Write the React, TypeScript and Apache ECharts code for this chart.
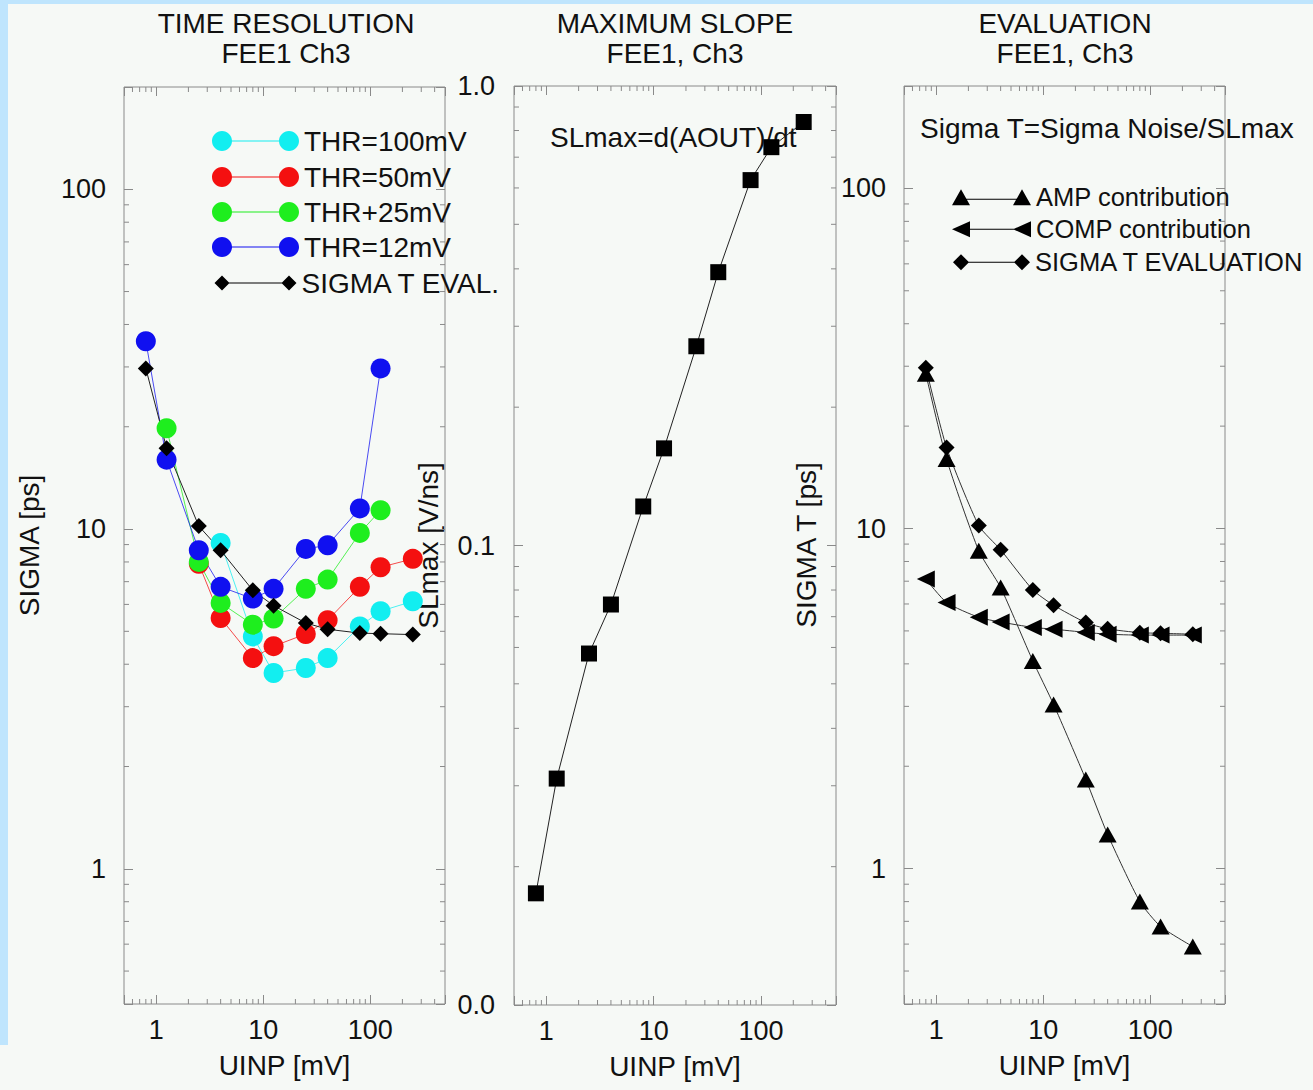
import React, { useEffect, useRef } from "react";
import * as echarts from "echarts";

// ---------------- data ----------------
const uinp = [0.8, 1.25, 2.5, 4, 8, 12.5, 25, 40, 80, 125, 250];

// Panel 1: time resolution (ps) for several thresholds
const thr100 = [null, null, null, 9.1, 4.83, 3.77, 3.9, 4.17, 5.17, 5.73, 6.13];
const thr50 = [null, null, 7.9, 5.47, 4.17, 4.52, 4.91, 5.39, 6.76, 7.72, 8.17];
const thr25 = [null, 19.8, 8.0, 6.06, 5.23, 5.45, 6.67, 7.1, 9.74, 11.36, null];
const thr12 = [35.7, 16.0, 8.66, 6.76, 6.24, 6.67, 8.74, 8.96, 11.5, 29.7, null];
const sigmaTEval = [29.7, 17.3, 10.2, 8.66, 6.6, 5.95, 5.29, 5.07, 4.94, 4.92, 4.89];

// Panel 2: maximum slope (V/ns)
const slMax = [0.0175, 0.0311, 0.0582, 0.0744, 0.1216, 0.1627, 0.2714, 0.3934, 0.624, 0.736, 0.835];

// Panel 3: evaluation (ps)
const ampContribution = [28.5, 16.0, 8.6, 6.71, 4.08, 3.04, 1.83, 1.26, 0.8, 0.676, 0.59];
const compContribution = [7.1, 6.06, 5.48, 5.31, 5.12, 5.06, 4.95, 4.89, 4.86, 4.86, 4.86];

// axis ranges and tick labels
const xRange = [0.5, 500];
const sigmaRange = [0.4, 200];
const slopeRange = [0.01, 1];
const xTickValues = [1, 10, 100];
const xTickLabels = ["1", "10", "100"];
const sigmaTickValues = [1, 10, 100];
const sigmaTickLabels = ["1", "10", "100"];
const slopeTickValues = [0.01, 0.1, 1];
const slopeTickLabels = ["0.0", "0.1", "1.0"];

// ---------------- style ----------------
const FONT = "'Liberation Sans', Arial, Helvetica, sans-serif";
const TXT = "#111111";
const GRAY = "#8a8a8a";
const CYAN = "#12eef0";
const RED = "#f41010";
const GREEN = "#1eee1e";
const BLUE = "#1010f0";
const BLACK = "#000000";

function pairs(vals: (number | null)[]) {
  const out: number[][] = [];
  uinp.forEach((u, i) => {
    const v = vals[i];
    if (v !== null && v !== undefined) out.push([u, v]);
  });
  return out;
}

function labelFor(values: number[], labels: string[]) {
  return (v: number) => {
    for (let i = 0; i < values.length; i++) {
      if (Math.abs(v - values[i]) / values[i] < 1e-6) return labels[i];
    }
    return "";
  };
}

function minorValues(lo: number, hi: number) {
  const out: number[] = [];
  for (let d = -3; d <= 3; d++) {
    const base = Math.pow(10, d);
    for (let k = 2; k <= 9; k++) {
      const v = +(k * base).toPrecision(6);
      if (v > lo * 1.0001 && v < hi * 0.9999) out.push(v);
    }
  }
  return out;
}

const MINOR = 5;
const MAJOR = 9;

function minorTickSeries(gi: number, xr: number[], yr: number[]) {
  const xm = minorValues(xr[0], xr[1]);
  const ym = minorValues(yr[0], yr[1]);
  const data = [...xm.map((v) => [v, yr[0], 0]), ...ym.map((v) => [xr[0], v, 1])];
  return {
    type: "custom",
    xAxisIndex: gi,
    yAxisIndex: gi,
    silent: true,
    clip: false,
    z: 1,
    data,
    renderItem: (params: any, api: any) => {
      const kind = api.value(2);
      const st = { stroke: GRAY, lineWidth: 1 };
      if (kind === 0) {
        const v = api.value(0);
        const b = api.coord([v, yr[0]]);
        const t = api.coord([v, yr[1]]);
        return {
          type: "group",
          children: [
            { type: "line", shape: { x1: b[0], y1: b[1], x2: b[0], y2: b[1] - MINOR }, style: st },
            { type: "line", shape: { x1: t[0], y1: t[1], x2: t[0], y2: t[1] + MINOR }, style: st },
          ],
        };
      }
      const v = api.value(1);
      const l = api.coord([xr[0], v]);
      const r = api.coord([xr[1], v]);
      return {
        type: "group",
        children: [
          { type: "line", shape: { x1: l[0], y1: l[1], x2: l[0] + MINOR, y2: l[1] }, style: st },
          { type: "line", shape: { x1: r[0], y1: r[1], x2: r[0] - MINOR, y2: r[1] }, style: st },
        ],
      };
    },
  };
}

const grids = [
  { left: 124, top: 87, width: 321, height: 917 },
  { left: 514, top: 86, width: 322, height: 919 },
  { left: 904, top: 86, width: 321, height: 918 },
];

const yRanges = [sigmaRange, slopeRange, sigmaRange];
const yFormatters = [
  labelFor(sigmaTickValues, sigmaTickLabels),
  labelFor(slopeTickValues, slopeTickLabels),
  labelFor(sigmaTickValues, sigmaTickLabels),
];
const yNames = ["SIGMA [ps]", "SLmax [V/ns]", "SIGMA T [ps]"];
const yNameGaps = [81, 72, 84];
const yLabelMargins = [18, 19, 18];

const textStyleBase = { color: TXT, fontFamily: FONT };

// legend icons (marker - line - marker)
function circ(cx: number, cy: number, r: number) {
  const k = 0.5523 * r;
  return (
    `M${cx - r},${cy} C${cx - r},${cy - k} ${cx - k},${cy - r} ${cx},${cy - r} ` +
    `C${cx + k},${cy - r} ${cx + r},${cy - k} ${cx + r},${cy} ` +
    `C${cx + r},${cy + k} ${cx + k},${cy + r} ${cx},${cy + r} ` +
    `C${cx - k},${cy + r} ${cx - r},${cy + k} ${cx - r},${cy} Z`
  );
}
const circleIcon = "path://" + circ(10, 10, 10) + " " + circ(77, 10, 10) + " M10,9.5 L77,9.5 L77,10.5 L10,10.5 Z";
const diamondIcon1 =
  "path://M0,7.5 L7.5,0 L15,7.5 L7.5,15 Z M67,7.5 L74.5,0 L82,7.5 L74.5,15 Z M7.5,7 L74.5,7 L74.5,8 L7.5,8 Z";
const triUpIcon =
  "path://M0,16 L9,0 L18,16 Z M61,16 L70,0 L79,16 Z M9,9.5 L70,9.5 L70,10.5 L9,10.5 Z";
const triLeftIcon =
  "path://M0,8 L18,0 L18,16 Z M61,8 L79,0 L79,16 Z M9,7.5 L70,7.5 L70,8.5 L9,8.5 Z";
const diamondIcon3 =
  "path://M0,8 L8,0 L16,8 L8,16 Z M61,8 L69,0 L77,8 L69,16 Z M8,7.5 L69,7.5 L69,8.5 L8,8.5 Z";

// row centre given; legend box top is placed at the text's top edge
function legendItem(name: string, icon: string, left: number, rowCenter: number, w: number, h: number, fs: number) {
  return {
    data: [name],
    left,
    top: rowCenter - fs / 2,
    padding: 0,
    icon,
    itemWidth: w,
    itemHeight: h,
    selectedMode: false,
    textStyle: { ...textStyleBase, fontSize: fs },
  };
}

function textEl(text: string, x: number, y: number, size: number, align: string) {
  return {
    type: "text",
    x,
    y,
    silent: true,
    z: 0,
    style: {
      text,
      fontSize: size,
      fontFamily: FONT,
      fill: TXT,
      align,
      verticalAlign: "middle",
    },
  };
}

function lineSeries(name: string, gi: number, vals: (number | null)[], color: string, symbol: string, size: any, extra: any = {}) {
  return {
    name,
    type: "line",
    xAxisIndex: gi,
    yAxisIndex: gi,
    data: pairs(vals),
    symbol,
    symbolSize: size,
    showSymbol: true,
    color,
    itemStyle: { color, borderWidth: 0 },
    lineStyle: { color, width: 1, opacity: 0.75 },
    emphasis: { disabled: true },
    z: 3,
    ...extra,
  };
}

export default function App() {
  const ref = useRef<HTMLDivElement>(null);

  useEffect(() => {
    if (!ref.current) return;
    const chart = echarts.init(ref.current, undefined, { renderer: "svg" });

    const xFmt = labelFor(xTickValues, xTickLabels);

    const xAxes: any[] = [];
    const yAxes: any[] = [];
    grids.forEach((g, gi) => {
      xAxes.push({
        type: "log",
        logBase: 10,
        gridIndex: gi,
        min: xRange[0],
        max: xRange[1],
        position: "bottom",
        axisLine: { show: false },
        axisTick: { show: true, inside: true, length: MAJOR, lineStyle: { color: GRAY, width: 1 } },
        splitLine: { show: false },
        minorTick: { show: false },
        axisLabel: { formatter: xFmt, fontSize: 27, margin: 12, ...textStyleBase, showMinLabel: true, showMaxLabel: true },
        name: "UINP [mV]",
        nameLocation: "middle",
        nameGap: 47,
        nameTextStyle: { ...textStyleBase, fontSize: 28 },
      });
      yAxes.push({
        type: "log",
        logBase: 10,
        gridIndex: gi,
        min: yRanges[gi][0],
        max: yRanges[gi][1],
        position: "left",
        axisLine: { show: false },
        axisTick: { show: true, inside: true, length: MAJOR, lineStyle: { color: GRAY, width: 1 } },
        splitLine: { show: false },
        minorTick: { show: false },
        axisLabel: { formatter: yFormatters[gi], fontSize: 27, margin: yLabelMargins[gi], ...textStyleBase, showMinLabel: true, showMaxLabel: true },
        name: yNames[gi],
        nameLocation: "middle",
        nameGap: yNameGaps[gi],
        nameTextStyle: { ...textStyleBase, fontSize: 28 },
      });
    });
    grids.forEach((g, gi) => {
      xAxes.push({
        type: "log",
        logBase: 10,
        gridIndex: gi,
        min: xRange[0],
        max: xRange[1],
        position: "top",
        axisLine: { show: false },
        axisTick: { show: true, inside: true, length: MAJOR, lineStyle: { color: GRAY, width: 1 } },
        splitLine: { show: false },
        axisLabel: { show: false },
      });
      yAxes.push({
        type: "log",
        logBase: 10,
        gridIndex: gi,
        min: yRanges[gi][0],
        max: yRanges[gi][1],
        position: "right",
        axisLine: { show: false },
        axisTick: { show: true, inside: true, length: MAJOR, lineStyle: { color: GRAY, width: 1 } },
        splitLine: { show: false },
        axisLabel: { show: false },
      });
    });

    const option: any = {
      animation: false,
      backgroundColor: "#f6f9f6",
      textStyle: { fontFamily: FONT },
      grid: grids.map((g) => ({
        ...g,
        show: true,
        borderColor: GRAY,
        borderWidth: 1,
        backgroundColor: "transparent",
        containLabel: false,
        outerBoundsMode: "none",
      })),
      xAxis: xAxes,
      yAxis: yAxes,
      legend: [
        legendItem("THR=100mV", circleIcon, 212, 141, 87, 20, 28),
        legendItem("THR=50mV", circleIcon, 212, 177, 87, 20, 28),
        legendItem("THR+25mV", circleIcon, 212, 212, 87, 20, 28),
        legendItem("THR=12mV", circleIcon, 212, 247, 87, 20, 28),
        legendItem("SIGMA T EVAL.", diamondIcon1, 214.5, 283, 82, 15, 28),
        legendItem("AMP contribution", triUpIcon, 952, 197, 79, 16, 25.5),
        legendItem("COMP contribution", triLeftIcon, 952, 229, 79, 16, 25.5),
        legendItem("SIGMA T EVALUATION", diamondIcon3, 953, 262, 77, 16, 25.5),
      ],
      graphic: [
        { type: "rect", silent: true, shape: { x: 0, y: 0, width: 1313, height: 4 }, style: { fill: "#bfe5fd" } },
        { type: "rect", silent: true, shape: { x: 0, y: 0, width: 8, height: 1045 }, style: { fill: "#bfe5fd" } },
        textEl("TIME RESOLUTION", 286, 23, 28, "center"),
        textEl("FEE1 Ch3", 286, 53, 28, "center"),
        textEl("MAXIMUM SLOPE", 675, 23, 28, "center"),
        textEl("FEE1, Ch3", 675, 53, 28, "center"),
        textEl("EVALUATION", 1065, 23, 28, "center"),
        textEl("FEE1, Ch3", 1065, 53, 28, "center"),
        textEl("SLmax=d(AOUT)/dt", 550, 137, 28, "left"),
        textEl("Sigma T=Sigma Noise/SLmax", 920, 128, 28, "left"),
      ],
      series: [
        minorTickSeries(0, xRange, sigmaRange),
        minorTickSeries(1, xRange, slopeRange),
        minorTickSeries(2, xRange, sigmaRange),
        lineSeries("THR=100mV", 0, thr100, CYAN, "circle", 20),
        lineSeries("THR=50mV", 0, thr50, RED, "circle", 20),
        lineSeries("THR+25mV", 0, thr25, GREEN, "circle", 20),
        lineSeries("THR=12mV", 0, thr12, BLUE, "circle", 20),
        lineSeries("SIGMA T EVAL.", 0, sigmaTEval, BLACK, "diamond", 16, { lineStyle: { color: "#222", width: 1 } }),
        lineSeries("SLmax", 1, slMax, BLACK, "rect", 16, { lineStyle: { color: "#222", width: 1 } }),
        lineSeries("AMP contribution", 2, ampContribution, BLACK, "triangle", [18, 16], { smooth: 0.2, lineStyle: { color: "#333", width: 1 } }),
        lineSeries("COMP contribution", 2, compContribution, BLACK, "triangle", [17, 18], { symbolRotate: 90, smooth: 0.2, lineStyle: { color: "#333", width: 1 } }),
        lineSeries("SIGMA T EVALUATION", 2, sigmaTEval, BLACK, "diamond", 16, { smooth: 0.2, lineStyle: { color: "#333", width: 1 } }),
      ],
    };

    chart.setOption(option);
    return () => chart.dispose();
  }, []);

  return (
    <div
      ref={ref}
      style={{ position: "absolute", left: 0, top: 0, width: 1313, height: 1090 }}
    />
  );
}
